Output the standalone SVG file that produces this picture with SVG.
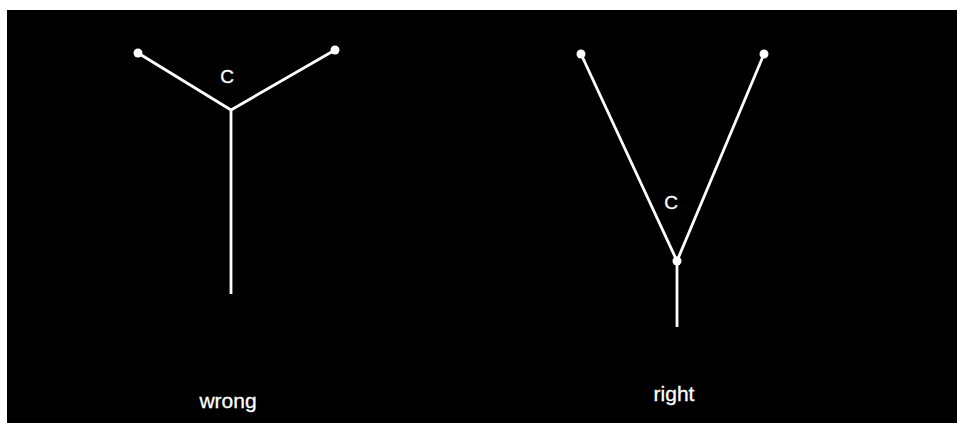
<svg xmlns="http://www.w3.org/2000/svg" width="957" height="423" viewBox="0 0 957 423">
<style>
.ln{stroke:#fff;stroke-width:2.8;fill:none;stroke-linecap:butt}
.dot{fill:#fff}
.lbl{fill:#fff;font-family:"Liberation Sans",Arial,sans-serif;text-anchor:middle;stroke:#fff;stroke-width:0.3}
</style>
<rect x="0" y="0" width="957" height="423" fill="#fff"/>
<rect x="7" y="10" width="950" height="413" fill="#000"/>
<g id="connectors">
<line class="ln" x1="138" y1="53" x2="231" y2="110"/>
<line class="ln" x1="335" y1="50" x2="231" y2="110"/>
<line class="ln" x1="231" y1="110" x2="231" y2="294"/>
<line class="ln" x1="581" y1="54" x2="677" y2="261"/>
<line class="ln" x1="764" y1="54" x2="677" y2="261"/>
<line class="ln" x1="677" y1="261" x2="677" y2="327"/>
</g>
<g id="wrong-left"><circle class="dot" cx="138" cy="53" r="4.5"/></g>
<g id="wrong-right"><circle class="dot" cx="335" cy="50" r="4.5"/></g>
<g id="wrong-c"><text class="lbl" x="227" y="83" font-size="19">C</text></g>
<g id="right-left"><circle class="dot" cx="581" cy="54" r="4.5"/></g>
<g id="right-right"><circle class="dot" cx="764" cy="54" r="4.5"/></g>
<g id="right-junction"><circle class="dot" cx="677" cy="261" r="4.5"/></g>
<g id="right-c"><text class="lbl" x="671" y="209" font-size="19">C</text></g>
<g id="label-wrong"><text class="lbl" x="228" y="408" font-size="21">wrong</text></g>
<g id="label-right"><text class="lbl" x="674" y="401" font-size="21">right</text></g>
</svg>
